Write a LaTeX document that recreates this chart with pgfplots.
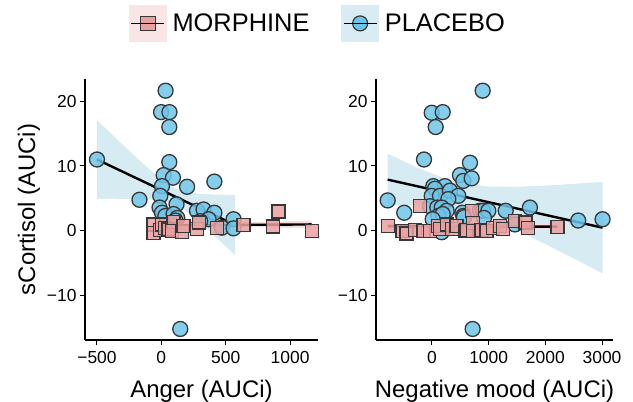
\documentclass[border=0pt]{standalone}
\usepackage{pgfplots}
\pgfplotsset{compat=1.18}
\usepackage{fontspec}
\setmainfont{Liberation Sans}

\definecolor{placebo}{RGB}{110,197,233}
\definecolor{morph}{RGB}{233,160,160}
\definecolor{pband}{RGB}{214,235,242}
\definecolor{mband}{RGB}{248,222,222}
\definecolor{pleg}{RGB}{218,236,243}
\definecolor{mleg}{RGB}{249,229,229}
\definecolor{edge}{RGB}{55,55,55}

\pgfplotsset{
  panel/.style={
    scale only axis,
    height=261bp,
    ymin=-16.8, ymax=23.4,
    ytick={-10,0,10,20},
    yticklabels={−10,0,10,20},
    axis lines=left,
    axis line style={-, line width=1.2bp, black},
    tick style={line width=1bp, black},
    tick align=outside,
    major tick length=5bp,
    tick label style={font=\fontsize{17.5}{20}\selectfont, black},
    xticklabel style={yshift=-3bp},
    label style={font=\fontsize{24}{28}\selectfont},
    xlabel style={yshift=-9bp},
  },
  pts/.style={only marks, mark=*, mark size=7.5bp,
    mark options={draw=edge, fill=placebo, line width=1.3bp, fill opacity=0.85}},
  sqs/.style={only marks, mark=square*, mark size=6.5bp,
    mark options={draw=edge, fill=morph, line width=1.3bp, fill opacity=0.85}},
  fit/.style={no marks, black, line width=2.4bp},
}

\begin{document}
\begin{tikzpicture}
\useasboundingbox (0bp,0bp) rectangle (633bp,402bp);

% left panel: anger
\begin{axis}[panel,
  at={(85bp,62bp)}, anchor=south west,
  width=233bp,
  xmin=-593, xmax=1217,
  xtick={-500,0,500,1000},
  xticklabels={−500,0,500,1000},
  xlabel={Anger (AUCi)},
  ylabel={sCortisol (AUCi)},
  legend columns=2,
  legend style={at={(1.0,1.213)}, anchor=center, draw=none, fill=none,
    font=\fontsize{25.5}{28}\selectfont,
    /tikz/every even column/.append style={column sep=30bp}},
]
\addlegendimage{legend image code/.code={
  \fill[mleg] (0bp,-18bp) rectangle (37bp,18bp);
  \draw[draw=edge, fill=morph, line width=1.2bp] (11bp,-7bp) rectangle (26bp,7bp);
  \draw[black, line width=1.4bp] (2bp,0bp) -- (35bp,0bp);
  \path (41bp,0bp);}}
\addlegendentry{MORPHINE}
\addlegendimage{legend image code/.code={
  \fill[pleg] (0bp,-18bp) rectangle (37bp,18bp);
  \draw[draw=edge, fill=placebo, line width=1.2bp] (18.5bp,0bp) circle (7.5bp);
  \draw[black, line width=1.4bp] (2bp,0bp) -- (35bp,0bp);
  \path (41bp,0bp);}}
\addlegendentry{PLACEBO}

\addplot[forget plot, fill=pband, draw=none] coordinates {
  (-500,17.05) (-400,15.16) (-300,13.29) (-200,11.43) (-100,9.62) (0,7.93)
  (100,6.59) (200,5.92) (300,5.68) (400,5.60) (500,5.56) (574,5.55)
  (574,-3.75) (500,-2.36) (400,-0.52) (300,1.28) (200,2.92) (100,4.13)
  (0,4.67) (-100,4.86) (-200,4.93) (-300,4.95) (-400,4.96) (-500,4.95)};
\addplot[forget plot, fill=mband, draw=none] coordinates {
  (-60,1.2) (200,1.12) (500,1.25) (800,1.4) (1168,1.6)
  (1168,0.4) (800,0.55) (500,0.7) (200,0.62) (-60,0.5)};

\addplot[forget plot, pts] coordinates {
  (-500,11.0) (-170,4.8) (33,21.6) (-2,18.3) (63,18.3) (62,16.0) (62,10.6)
  (18,8.6) (90,8.2) (5,6.9) (200,6.8) (412,7.6) (-8,5.4) (-14,3.6)
  (118,4.1) (5,2.8) (31,2.3) (95,2.6) (124,2.0) (277,3.1) (328,3.3)
  (412,2.8) (367,1.8) (302,1.5) (561,1.8) (470,0.5) (561,0.4) (110,1.6)
  (147,-15.1)};
\addplot[forget plot, sqs] coordinates {
  (-60,1.0) (-60,-0.3) (-8,0.1) (5,1.0) (30,0.4) (55,0.2) (95,1.4) (83,0.0)
  (160,-0.2) (173,0.8) (277,0.3) (290,1.3) (432,0.5) (638,0.9) (870,0.7)
  (909,3.0) (1168,0.0)};

\addplot[forget plot, fit] coordinates {(-500,11.0) (574,0.9)};
\addplot[forget plot, fit] coordinates {(-60,0.85) (1168,1.0)};
\end{axis}

% right panel: negative mood
\begin{axis}[panel,
  at={(376bp,62bp)}, anchor=south west,
  width=237bp,
  xmin=-988, xmax=3194,
  xtick={0,1000,2000,3000},
  xticklabels={0,1000,2000,3000},
  xlabel={Negative mood (AUCi)},
]
\addplot[fill=pband, draw=none] coordinates {
  (-782,11.9) (-250,9.71) (250,8.0) (500,7.4) (1000,6.84) (1500,6.8)
  (2000,6.98) (2500,7.24) (3010,7.56)
  (3010,-6.54) (2500,-4.24) (2000,-2.02) (1500,0.1) (1000,2.02) (500,3.4)
  (250,3.78) (-250,4.01) (-782,3.9)};
\addplot[fill=mband, draw=none] coordinates {
  (-782,1.15) (0,0.95) (700,0.9) (1500,0.95) (2212,1.1)
  (2212,0.2) (1500,0.4) (700,0.5) (0,0.55) (-782,0.35)};

\addplot[pts] coordinates {
  (-782,4.7) (-490,2.8) (-141,11.0) (-5,18.2) (189,18.3) (65,16.0)
  (894,21.6) (670,10.5) (494,8.6) (552,7.7) (700,8.1) (23,6.9) (229,6.9)
  (53,6.5) (-5,5.4) (141,5.4) (317,6.2) (464,5.4) (288,4.9) (-35,3.8)
  (94,3.6) (171,3.6) (259,3.1) (112,2.3) (189,2.6) (535,2.8) (552,2.3)
  (564,2.1) (12,1.8) (847,3.1) (900,3.1) (994,3.1) (917,2.0) (1300,3.1)
  (1728,3.6) (1464,1.0) (2580,1.6) (3010,1.8) (171,-0.2) (717,-15.1)};
\addplot[sqs] coordinates {
  (-782,0.8) (-520,0.0) (-450,-0.4) (-300,0.1) (-212,3.8) (-150,0.0)
  (-35,0.0) (112,0.8) (141,0.3) (259,1.0) (347,0.3) (435,0.8) (582,0.0)
  (611,0.1) (700,3.1) (729,1.2) (729,0.0) (876,0.1) (964,0.0) (1082,0.4)
  (1199,0.8) (1258,0.3) (1464,1.5) (1650,1.3) (1690,0.4) (2212,0.6)};

\addplot[fit] coordinates {(-782,7.9) (3010,0.5)};
\addplot[fit] coordinates {(-782,0.75) (2212,0.65)};
\end{axis}
\end{tikzpicture}
\end{document}
